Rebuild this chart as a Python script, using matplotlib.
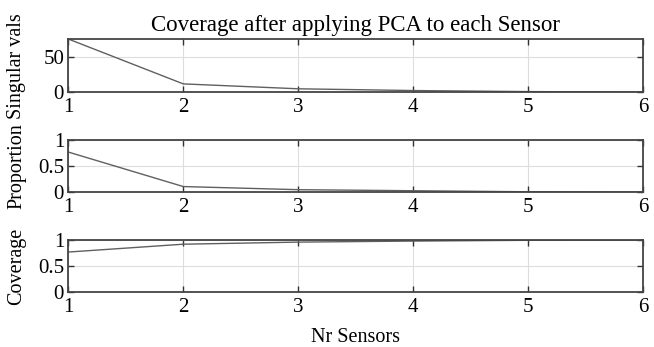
import matplotlib
matplotlib.use("Agg")
import matplotlib.pyplot as plt
import numpy as np

plt.rcParams['font.family'] = ['Liberation Serif', 'DejaVu Serif']

nr_sensors = [1, 2, 3, 4, 5, 6]
singular_vals = [76, 12, 5, 2.5, 1, 0.3]
proportion = [0.77, 0.11, 0.05, 0.03, 0.01, 0.003]
coverage = [0.77, 0.92, 0.96, 0.98, 0.995, 1.0]

fig = plt.figure(figsize=(6.54, 3.47), dpi=100)

boxes = [[0.1044, 0.734, 0.8793, 0.1536],
         [0.1044, 0.4458, 0.8793, 0.1507],
         [0.1044, 0.1576, 0.8793, 0.1507]]
series = [singular_vals, proportion, coverage]
labels = ['Singular vals', 'Proportion', 'Coverage']
ylims = [(0, 76), (0, 1), (0, 1)]
yticks = [[0, 50], [0, 0.5, 1], [0, 0.5, 1]]
yticklabels = [['0', '50'], ['0', '0.5', '1'], ['0', '0.5', '1']]

for box, y, lab, yl, yt, ytl in zip(boxes, series, labels, ylims, yticks, yticklabels):
    ax = fig.add_axes(box)
    ax.plot(nr_sensors, y, color='#606060', lw=1.0)
    ax.set_xlim(1, 6)
    ax.set_ylim(*yl)
    ax.set_xticks(nr_sensors)
    ax.set_yticks(yt)
    ax.set_yticklabels(ytl)
    ax.grid(True, color='#dddddd', lw=0.8)
    ax.tick_params(direction='in', top=True, right=True, labelsize=15,
                   length=4, width=1, color='#333333')
    ax.tick_params(axis='y', pad=3)
    ax.tick_params(axis='x', pad=4)
    for s in ax.spines.values():
        s.set_color('#444444')
        s.set_linewidth(1.3)
    ax.set_ylabel(lab, fontsize=14.5)
    ax.yaxis.set_label_coords(-0.073, 0.5)
    if lab == 'Singular vals':
        ax.set_title('Coverage after applying PCA to each Sensor', fontsize=16.5, pad=6)
    if lab == 'Coverage':
        ax.set_xlabel('Nr Sensors', fontsize=14.5, labelpad=8)

fig.savefig('out.png', dpi=100)
